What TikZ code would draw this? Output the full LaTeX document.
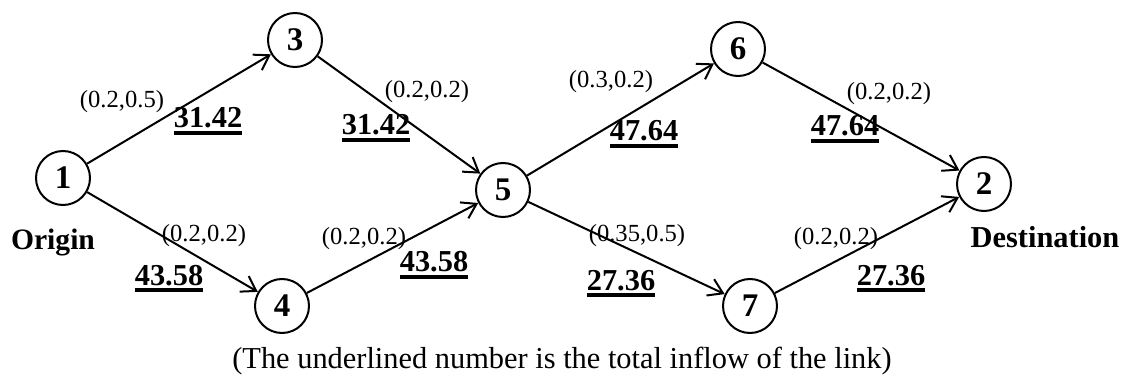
\documentclass[tikz,border=0pt]{standalone}
\usepackage{fontspec}
\setmainfont{Liberation Serif}
\usepackage{tikz}
\usetikzlibrary{arrows.meta}
\newsavebox{\flowbox}
\newcommand{\inflow}[1]{\sbox{\flowbox}{\bfseries #1}\rlap{\rule[-3.3pt]{\wd\flowbox}{1.6pt}}\usebox{\flowbox}}

\begin{document}
\begin{tikzpicture}[x=0.5pt, y=0.5pt, >={Straight Barb[length=7pt,width=9pt]}, line width=1pt,
    nodo/.style={draw,circle,minimum size=27pt,inner sep=0pt,font=\fontsize{16.5}{18}\selectfont\bfseries},
    coef/.style={anchor=base,inner sep=0pt,font=\fontsize{12.3}{14}\selectfont},
    flow/.style={anchor=base,inner sep=0pt,font=\fontsize{15.2}{17}\selectfont}]
    \useasboundingbox (0,0) rectangle (1125,386);
    \node[nodo] (n1) at (63,208){1};
    \node[nodo] (n3) at (295,346){3};
    \node[nodo] (n4) at (282,80){4};
    \node[nodo] (n5) at (503,196){5};
    \node[nodo] (n6) at (738,337){6};
    \node[nodo] (n7) at (750,80){7};
    \node[nodo] (n2) at (984,202){2};
    \draw[->] (n1)--(n3); \draw[->] (n1)--(n4);
    \draw[->] (n3)--(n5); \draw[->] (n4)--(n5);
    \draw[->] (n5)--(n6); \draw[->] (n5)--(n7);
    \draw[->] (n6)--(n2); \draw[->] (n7)--(n2);
    \node[coef] (c13) at (122,278){(0.2,0.5)};  \node[flow] (f13) at (208,258){\inflow{31.42}};
    \node[coef] (c14) at (204,144){(0.2,0.2)};  \node[flow] (f14) at (169,101){\inflow{43.58}};
    \node[coef] (c35) at (427,288){(0.2,0.2)};  \node[flow] (f35) at (376,251){\inflow{31.42}};
    \node[coef] (c45) at (364,141){(0.2,0.2)};  \node[flow] (f45) at (434,114){\inflow{43.58}};
    \node[coef] (c56) at (611,298){(0.3,0.2)};  \node[flow] (f56) at (644,245){\inflow{47.64}};
    \node[coef] (c57) at (637,144){(0.35,0.5)}; \node[flow] (f57) at (621,96){\inflow{27.36}};
    \node[coef] (c62) at (889,286){(0.2,0.2)};  \node[flow] (f62) at (845,250){\inflow{47.64}};
    \node[coef] (c72) at (836,141){(0.2,0.2)};  \node[flow] (f72) at (891,101){\inflow{27.36}};
    \node[flow,font=\fontsize{14.8}{17}\selectfont\bfseries] (orig) at (53,136){Origin};
    \node[flow,font=\fontsize{15.2}{17}\selectfont\bfseries] (dest) at (1045,139){Destination};
    \node[flow,font=\fontsize{15.2}{17}\selectfont] (nota) at (562,18){(The underlined number is the total inflow of the link)};
\end{tikzpicture}
\end{document}
